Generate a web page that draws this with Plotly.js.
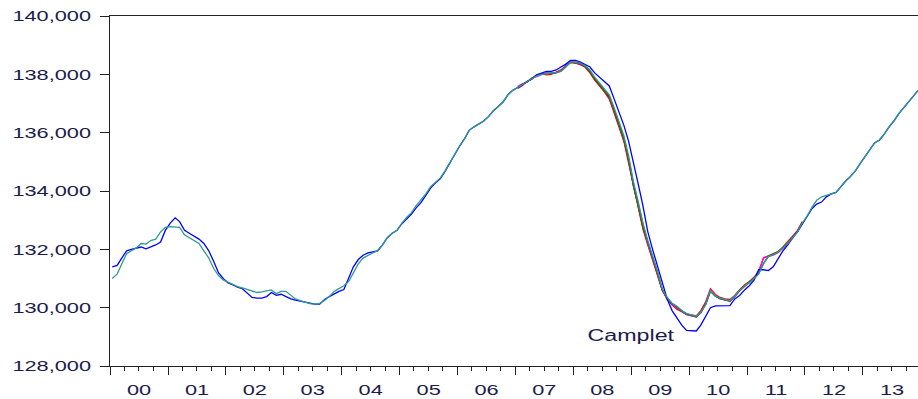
<!DOCTYPE html>
<html>
<head>
<meta charset="utf-8">
<script src="https://cdn.plot.ly/plotly-3.0.1.min.js"></script>
<style>
html,body{margin:0;padding:0;background:#fff;}
#chart{width:918px;height:399px;}
</style>
</head>
<body>
<div id="chart"></div>
<script>
// ---- data (monthly, Jan 2000 .. Dec 2013) ----
const startYear = 2000;
const startMonthExtras = 84; // Jan 2007 index for extra vintages
const blackStart = 96;       // Jan 2008

const teal = [
131000,131150,131500,131850,131950,132050,132200,132180,132300,132350,132600,132750,
132780,132770,132750,132500,132400,132300,132200,131950,131700,131350,131100,130950,
130870,130800,130720,130680,130620,130560,130520,130540,130580,130610,130480,130560,
130560,130420,130300,130240,130180,130140,130120,130150,130250,130380,130560,130650,
130750,130900,131200,131500,131700,131800,131880,131950,132150,132400,132550,132650,
132900,133100,133250,133500,133700,133900,134150,134300,134450,134700,135000,135300,
135550,135800,136080,136200,136290,136400,136550,136750,136900,137050,137300,137450,
137550,137650,137750,137850,137950,138000,138030,138050,138060,138100,138250,138420,
138430,138380,138300,138150,137900,137700,137500,137300,136850,136400,135900,135200,
134300,133600,132900,132300,131800,131250,130650,130350,130150,130050,129900,129800,
129750,129700,129850,130100,130580,130400,130330,130280,130240,130400,130600,130750,
130850,131000,131150,131500,131750,131820,131900,132050,132200,132400,132600,132900,
133150,133450,133680,133800,133850,133900,133950,134150,134350,134500,134700,134950,
135200,135450,135650,135750,135950,136200,136400,136650,136850,137050,137250,137450
];

const blue = [
131400,131450,131700,131950,132000,132050,132080,132020,132080,132150,132250,132650,
132900,133080,132950,132650,132550,132450,132350,132200,131950,131600,131200,131000,
130850,130780,130700,130650,130500,130350,130330,130330,130380,130520,130420,130460,
130380,130300,130260,130220,130180,130150,130120,130120,130280,130380,130480,130560,
130620,131000,131400,131650,131800,131880,131920,131950,132150,132400,132550,132650,
132880,133050,133200,133420,133600,133850,134100,134280,134430,134680,134980,135300,
135550,135800,136080,136200,136290,136400,136550,136750,136900,137050,137300,137450,
137550,137650,137750,137850,137980,138050,138100,138100,138150,138250,138350,138480,
138480,138420,138330,138250,138050,137900,137750,137600,137150,136700,136250,135700,
134900,134200,133500,132600,132000,131450,130900,130300,129900,129650,129400,129220,
129200,129200,129400,129700,130000,130060,130060,130060,130070,130300,130420,130600,
130750,130950,131300,131300,131270,131400,131650,131950,132150,132400,132600,132850,
133100,133400,133550,133620,133800,133900,133950,134150,134350,134500,134700,134950,
135200,135450,135650,135750,135950,136200,136400,136650,136850,137050,137250,137450
];

const red = [
137520,137620,137760,137830,137980,138020,137980,138000,138080,138150,138300,138400,
138380,138350,138250,138050,137800,137600,137400,137150,136700,136200,135700,134950,
134100,133400,132700,132150,131650,131100,130600,130300,130100,129950,129850,129780,
129750,129720,129900,130200,130650,130450,130350,130300,130280,130420,130620,130780,
130900,131050,131250,131700,131780,131850,131920,132080,132250,132450,132650,132950
];

const magenta = [
137580,137680,137720,137880,137920,137980,138060,138030,138040,138120,138280,138450,
138400,138360,138280,138120,137880,137650,137450,137250,136800,136300,135800,135100,
134200,133500,132800,132200,131700,131200,130620,130330,130120,130000,129880,129760,
129720,129680,129820,130150,130600,130420,130300,130260,130220,130380,130580,130720,
130880,131020,131200,131720,131760,131800,131880,132020,132180,132380,132620,132880
];

const green = [
137540,137660,137740,137860,137960,138010,138020,138040,138070,138110,138260,138410,
138420,138370,138280,138100,137850,137650,137450,137250,136780,136300,135800,135100,
134200,133500,132800,132250,131750,131200,130630,130340,130140,130040,129890,129790,
129740,129690,129840,130120,130560,130390,130320,130270,130230,130390,130590,130740,
130860,131010,131170,131520,131760,131830,131910,132060,132210,132410,132610,132910
];

const black = [
138400,138340,138260,138080,137820,137620,137420,137200,136720,136250,135750,135050,
134150,133450,132750,132200,131700,131150,130600,130300,130100,130000,129870,129770,
129730,129690,129830,130130,130570,130400,130310,130260,130230,130390,130590,130740
];

const yTicks = [128000,130000,132000,134000,136000,138000,140000];
const annoText = "Camplet";

// month index -> mid-month date string
function monthDate(i){
  const y = startYear + Math.floor(i/12);
  const m = (i % 12) + 1;
  return y + "-" + (m < 10 ? "0" + m : m) + "-15";
}
function datesFor(start, n){
  const out = [];
  for (let k = 0; k < n; k++) out.push(monthDate(start + k));
  return out;
}

const LW = 1.3;
function tr(vals, start, color, w){
  return {x: datesFor(start, vals.length), y: vals, type: "scatter", mode: "lines",
          line: {color: color, width: w || LW}, hoverinfo: "skip", showlegend: false};
}

const traces = [
  tr(black, blackStart, "#000000"),
  tr(red, startMonthExtras, "#ff0000"),
  tr(magenta, startMonthExtras, "#ff00ff"),
  tr(green, startMonthExtras, "#008000"),
  tr(blue, 0, "#0000ff"),
  tr(teal, 0, "#2f9a8f")
];

const FONT = {family: "Liberation Sans, Arial, sans-serif", size: 15, color: "#1c1c4a"};

const layout = {
  width: 918, height: 399,
  margin: {l: 110, r: 0, t: 16, b: 33, pad: 0},
  paper_bgcolor: "#ffffff", plot_bgcolor: "#ffffff",
  showlegend: false,
  font: FONT,
  xaxis: {
    type: "date",
    range: ["2000-01-01", "2013-12-14"],
    tick0: "2000-01-01", dtick: "M12",
    tickformat: "%y", ticklabelmode: "period",
    ticks: "outside", ticklen: 8, tickwidth: 1, tickcolor: "#222",
    ticklabelstandoff: 2,
    minor: {dtick: "M3", ticks: "outside", ticklen: 4, tickwidth: 1, tickcolor: "#222", showgrid: false},
    showline: true, linecolor: "#222", linewidth: 1, mirror: true,
    showgrid: false, zeroline: false,
    tickfont: FONT, fixedrange: true
  },
  yaxis: {
    range: [128000, 140000],
    tickvals: yTicks, tickformat: ",d",
    ticks: "outside", ticklen: 9, tickwidth: 1, tickcolor: "#222",
    showline: true, linecolor: "#222", linewidth: 1,
    showgrid: false, zeroline: false,
    tickfont: FONT, fixedrange: true
  },
  annotations: [{
    x: "2009-01-01", y: 129060, xref: "x", yref: "y",
    text: annoText, showarrow: false,
    font: {family: "Liberation Sans, Arial, sans-serif", size: 16, color: "#1c1c4a"}
  }]
};

Plotly.newPlot("chart", traces, layout, {staticPlot: true, displayModeBar: false}).then(function(gd){
  const STRETCH = 1.45;
  gd.querySelectorAll(".xtick text, .ytick text, .annotation-text").forEach(function(t){
    const w = t.getComputedTextLength();
    if (w > 0) {
      t.setAttribute("textLength", (w * STRETCH).toFixed(1));
      t.setAttribute("lengthAdjust", "spacingAndGlyphs");
    }
  });
  // align the right edge of the y tick labels as in the reference
  const hostLeft = gd.getBoundingClientRect().left;
  gd.querySelectorAll(".ytick text").forEach(function(t){
    const r = t.getBoundingClientRect();
    const delta = 91 - (r.right - hostLeft);
    const x = parseFloat(t.getAttribute("x") || "0");
    t.setAttribute("x", (x + delta).toFixed(1));
  });
});
</script>
</body>
</html>
